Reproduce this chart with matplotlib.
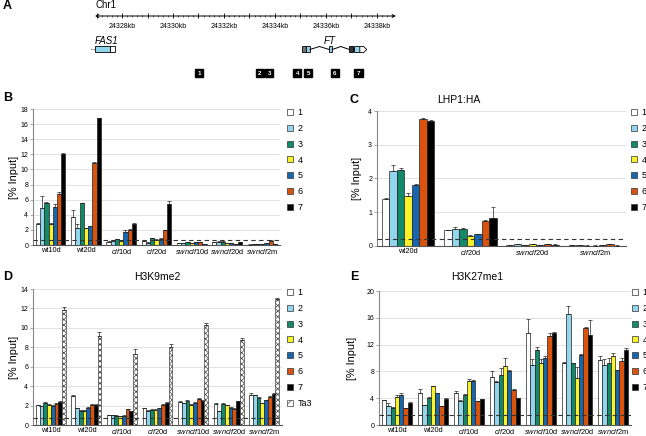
import matplotlib
matplotlib.use('Agg')
import matplotlib.pyplot as plt
from matplotlib.patches import Rectangle, Polygon, Patch
import numpy as np

plt.rcParams['font.family'] = ['Liberation Sans', 'DejaVu Sans']
plt.rcParams['mathtext.fontset'] = 'custom'
plt.rcParams['mathtext.rm'] = 'Liberation Sans'
plt.rcParams['mathtext.it'] = 'Liberation Sans:italic'
plt.rcParams['hatch.linewidth'] = 0.5

W, H = 646, 436

# ---- data
regions = ['1', '2', '3', '4', '5', '6', '7']
colors = ['white', '#92d5ec', '#13896a', '#f7f229', '#1667ad', '#d9530f', 'black']

lbl7 = ['wt10d', 'wt20d', r'$\mathit{clf}$10d', r'$\mathit{clf}$20d',
        r'$\mathit{swnclf}$10d', r'$\mathit{swnclf}$20d', r'$\mathit{swnclf}$2m']
lbl4 = ['wt20d', r'$\mathit{clf}$20d', r'$\mathit{swnclf}$20d', r'$\mathit{swnclf}$2m']

# panel A: gene map (kb)
ruler_lo, ruler_hi = 24326.94, 24338.75
ruler_labels = [24328, 24330, 24332, 24334, 24336, 24338]
fas1_cds = (24326.94, 24327.53)
fas1_utr = (24327.53, 24327.73)
ft_utr5 = (24335.05, 24335.22)
ft_exons = [(24335.22, 24335.37), (24336.13, 24336.25), (24337.10, 24337.33)]
ft_dark = (24336.92, 24337.05)
ft_utr3 = (24337.33, 24337.60)
ft_introns = [(24335.37, 24336.13), (24336.25, 24336.92)]
primers = [24331.03, 24333.40, 24333.78, 24334.88, 24335.31, 24336.35, 24337.28]

# panel B: 7 lines x 7 regions
b_vals = [[2.8, 4.95, 5.6, 2.8, 5.0, 6.8, 12.1],
          [3.7, 2.2, 5.5, 2.2, 2.5, 10.8, 16.8],
          [0.45, 0.55, 0.8, 0.55, 1.75, 2.0, 2.8],
          [0.5, 0.3, 0.9, 0.7, 0.85, 2.0, 5.4],
          [0.3, 0.3, 0.4, 0.25, 0.35, 0.4, 0.1],
          [0.4, 0.45, 0.45, 0.2, 0.25, 0.1, 0.35],
          [0.05, 0.1, 0.15, 0.15, 0.25, 0.55, 0.1]]
b_err = [[0.1, 1.6, 0.1, 0.1, 0.4, 0.2, 0.1],
         [0.95, 0.6, 0.1, 0.1, 0.05, 0.2, 0.05],
         [0.05, 0.05, 0.05, 0.05, 0.2, 0.1, 0.1],
         [0.1, 0.05, 0.05, 0.05, 0.05, 0.05, 0.4],
         [0.03, 0.03, 0.03, 0.03, 0.03, 0.03, 0.03],
         [0.05, 0.03, 0.03, 0.03, 0.03, 0.03, 0.03],
         [0.03, 0.03, 0.03, 0.03, 0.03, 0.05, 0.03]]
b_thresh = 0.7

# panel C: LHP1:HA
c_vals = [[1.4, 2.22, 2.26, 1.49, 1.8, 3.75, 3.71],
          [0.46, 0.5, 0.5, 0.3, 0.35, 0.75, 0.82],
          [0.02, 0.05, 0.03, 0.05, 0.03, 0.05, 0.04],
          [0.02, 0.03, 0.01, 0.01, 0.02, 0.06, 0.01]]
c_err = [[0.03, 0.18, 0.04, 0.07, 0.03, 0.05, 0.03],
         [0.02, 0.05, 0.02, 0.02, 0.02, 0.03, 0.33],
         [0.01, 0.01, 0.01, 0.01, 0.01, 0.01, 0.01],
         [0.01, 0.01, 0.01, 0.01, 0.01, 0.01, 0.01]]
c_thresh = 0.2

# panel D: H3K9me2, 7 regions + Ta3
d_vals = [[2.05, 1.95, 2.3, 2.1, 2.0, 2.2, 2.4],
          [3.0, 1.7, 1.45, 1.45, 1.8, 2.1, 2.1],
          [1.0, 1.0, 0.95, 0.9, 0.95, 1.6, 1.4],
          [1.75, 1.45, 1.55, 1.55, 1.7, 2.1, 2.3],
          [2.4, 2.25, 2.5, 2.1, 2.3, 2.7, 2.5],
          [2.2, 1.4, 2.2, 2.05, 1.8, 1.65, 2.45],
          [3.1, 3.05, 2.8, 2.25, 2.55, 2.9, 3.15]]
d_err = [[0.05, 0.05, 0.05, 0.05, 0.05, 0.05, 0.05],
         [0.05, 0.05, 0.05, 0.05, 0.05, 0.05, 0.05],
         [0.05, 0.05, 0.05, 0.05, 0.05, 0.05, 0.05],
         [0.05, 0.05, 0.05, 0.05, 0.05, 0.05, 0.05],
         [0.05, 0.05, 0.05, 0.05, 0.05, 0.05, 0.05],
         [0.05, 0.05, 0.05, 0.05, 0.05, 0.05, 0.05],
         [0.2, 0.05, 0.05, 0.05, 0.05, 0.05, 0.15]]
d_ta3 = [11.8, 9.15, 7.3, 8.0, 10.3, 8.8, 13.0]
d_ta3_err = [0.3, 0.45, 0.5, 0.3, 0.2, 0.2, 0.05]
d_thresh = 0.75

# panel E: H3K27me1
e_vals = [[3.7, 2.9, 2.55, 4.25, 4.55, 2.5, 3.3],
          [4.8, 2.95, 4.05, 5.75, 4.8, 2.85, 3.95],
          [4.75, 3.55, 4.55, 6.55, 6.6, 3.55, 3.85],
          [7.1, 6.4, 7.5, 8.75, 8.1, 5.25, 4.0],
          [13.8, 9.0, 11.15, 9.2, 9.95, 13.25, 13.8],
          [9.25, 16.5, 9.25, 7.0, 10.5, 14.45, 13.4],
          [9.75, 9.0, 9.25, 10.35, 8.2, 9.6, 11.2]]
e_err = [[0.1, 0.4, 0.1, 0.2, 0.25, 0.1, 0.2],
         [0.6, 0.1, 0.1, 0.1, 0.05, 0.05, 0.05],
         [0.35, 0.25, 0.15, 0.25, 0.05, 0.05, 0.05],
         [0.9, 0.1, 1.0, 1.25, 0.05, 0.05, 0.05],
         [2.0, 0.8, 0.55, 0.6, 0.35, 0.45, 0.05],
         [0.2, 1.2, 0.05, 1.7, 0.05, 0.25, 2.2],
         [0.55, 0.9, 0.75, 0.45, 0.05, 0.4, 0.3]]
e_thresh = 1.5


def rect(l, t, r, b):
    return [l / W, 1 - b / H, (r - l) / W, (b - t) / H]


fig = plt.figure(figsize=(W / 100, H / 100), dpi=100)


def bar_panel(ax, vals, errs, labels, ymax, ystep, thresh, ta3=None, ta3_err=None):
    vals = np.array(vals)
    errs = np.array(errs)
    nser = vals.shape[1] + (1 if ta3 is not None else 0)
    gw = 0.84
    w = gw / nser
    x0 = np.arange(len(labels))
    for j in range(vals.shape[1]):
        xs = x0 - gw / 2 + (j + 0.5) * w
        ax.bar(xs, vals[:, j], w, color=colors[j], edgecolor='#222222', lw=0.5, zorder=2)
        ax.errorbar(xs, vals[:, j], yerr=[np.zeros(len(xs)), errs[:, j]], fmt='none',
                    ecolor='#222222', elinewidth=0.5, capsize=1.2, capthick=0.5, zorder=3)
    if ta3 is not None:
        xs = x0 - gw / 2 + (nser - 0.5) * w
        ax.bar(xs, ta3, w, color='white', edgecolor='#444444', hatch='xxxxxx', lw=0.5, zorder=2)
        ax.errorbar(xs, ta3, yerr=[np.zeros(len(xs)), ta3_err], fmt='none',
                    ecolor='#222222', elinewidth=0.5, capsize=1.2, capthick=0.5, zorder=3)
    ax.axhline(thresh, color='#333333', ls=(0, (4, 3)), lw=0.8, zorder=4)
    ax.set_xlim(-0.5, len(labels) - 0.5)
    ax.set_ylim(0, ymax)
    ax.set_yticks(np.arange(0, ymax + 0.01, ystep))
    ax.set_xticks(x0)
    ax.set_xticklabels(labels)
    ax.yaxis.grid(True, color='#dddddd', lw=0.6)
    ax.set_axisbelow(True)
    for s in ['top', 'right']:
        ax.spines[s].set_visible(False)
    ax.spines['left'].set_color('#888888')
    ax.spines['left'].set_linewidth(0.8)
    ax.spines['bottom'].set_color('#555555')
    ax.spines['bottom'].set_linewidth(0.8)
    ax.tick_params(axis='y', labelsize=5, length=2, width=0.5, color='#888888', pad=1.5)
    ax.tick_params(axis='x', labelsize=5.3, length=0, pad=1.5)
    ax.set_ylabel('[% Input]', fontsize=7.8)


def add_legend(x, y, with_ta3=False):
    handles = [Patch(facecolor=c, edgecolor='#333333', lw=0.5) for c in colors]
    labels = list(regions)
    if with_ta3:
        handles.append(Patch(facecolor='white', edgecolor='#444444', hatch='////', lw=0.5))
        labels.append('Ta3')
    fig.legend(handles, labels, loc='upper left', bbox_to_anchor=(x / W, 1 - y / H),
               frameon=False, fontsize=6.5, handlelength=0.65, handleheight=0.65,
               handletextpad=0.5, labelspacing=0.76, borderpad=0, borderaxespad=0)


# ---- panel A
ax_a = fig.add_axes(rect(95, 0, 396, 90))
ax_a.set_xlim(ruler_lo, ruler_hi)
ax_a.set_ylim(90, 0)
ax_a.axis('off')
ax_a.annotate('', xy=(ruler_hi, 16), xytext=(ruler_lo, 16),
              arrowprops=dict(arrowstyle='<->', lw=0.7, shrinkA=0, shrinkB=0, mutation_scale=5))
ax_a.vlines(np.arange(24327, 24339, 1), 13.5, 18.5, color='black', lw=0.6)
ax_a.vlines(np.arange(24327, 24338.7, 0.2), 14.8, 17.2, color='black', lw=0.4)
for k in ruler_labels:
    ax_a.text(k, 26, f'{k}kb', ha='center', va='center', fontsize=5)

gy, gh = 46.5, 6
ax_a.add_patch(Rectangle((fas1_cds[0], gy), fas1_cds[1] - fas1_cds[0], gh,
                         facecolor='#92d5ec', edgecolor='black', lw=0.6, clip_on=False))
ax_a.add_patch(Rectangle((fas1_utr[0], gy), fas1_utr[1] - fas1_utr[0], gh,
                         facecolor='white', edgecolor='black', lw=0.6, clip_on=False))
ax_a.plot([fas1_cds[0] - 0.14, fas1_cds[0]], [gy + gh / 2] * 2, ls=':', color='black',
          lw=0.6, clip_on=False)
ax_a.add_patch(Rectangle((ft_utr5[0], gy), ft_utr5[1] - ft_utr5[0], gh,
                         facecolor='#777777', edgecolor='black', lw=0.6))
for s, e in ft_exons:
    ax_a.add_patch(Rectangle((s, gy), e - s, gh, facecolor='#92d5ec', edgecolor='black', lw=0.6))
ax_a.add_patch(Rectangle((ft_dark[0], gy), ft_dark[1] - ft_dark[0], gh,
                         facecolor='#333333', edgecolor='black', lw=0.6))
ax_a.add_patch(Polygon([(ft_utr3[0], gy), (ft_utr3[0] + (ft_utr3[1] - ft_utr3[0]) * 0.55, gy),
                        (ft_utr3[1], gy + gh / 2),
                        (ft_utr3[0] + (ft_utr3[1] - ft_utr3[0]) * 0.55, gy + gh),
                        (ft_utr3[0], gy + gh)], closed=True,
                       facecolor='white', edgecolor='black', lw=0.6))
for s, e in ft_introns:
    ax_a.plot([s, (s + e) / 2, e], [gy + gh / 2, gy, gy + gh / 2], color='black', lw=0.7)
ax_a.plot([ft_dark[1], ft_exons[2][0]], [gy + gh / 2] * 2, color='black', lw=0.7)

ax_a.text(fas1_cds[0], 41.5, 'FAS1', style='italic', fontsize=7, ha='left', va='center')
ax_a.text(24336.15, 40.5, 'FT', style='italic', fontsize=7, ha='center', va='center')
ax_a.text(ruler_lo, 5, 'Chr1', fontsize=7, ha='left', va='center')
for i, p in enumerate(primers):
    ax_a.add_patch(Rectangle((p - 0.16, 69), 0.32, 8, facecolor='black', edgecolor='black'))
    ax_a.text(p, 73.2, regions[i], color='white', fontsize=4.5, fontweight='bold',
              ha='center', va='center')

# ---- panel B
ax_b = fig.add_axes(rect(33, 109, 280, 245))
bar_panel(ax_b, b_vals, b_err, lbl7, 18, 2, b_thresh)
ax_b.yaxis.set_label_coords((19 - 33) / 247, 0.5)
add_legend(287, 108)

# ---- panel C
ax_c = fig.add_axes(rect(377, 111, 626, 246))
bar_panel(ax_c, c_vals, c_err, lbl4, 4, 1, c_thresh)
ax_c.yaxis.set_label_coords((362 - 377) / 249, 0.5)
add_legend(631, 108)
fig.text(459 / W, 1 - 100 / H, 'LHP1:HA', fontsize=7.5, ha='center', va='center')

# ---- panel D
ax_d = fig.add_axes(rect(33, 289, 282, 425))
bar_panel(ax_d, d_vals, d_err, lbl7, 14, 2, d_thresh, d_ta3, d_ta3_err)
ax_d.yaxis.set_label_coords((19 - 33) / 249, 0.5)
add_legend(287, 288, with_ta3=True)
fig.text(157 / W, 1 - 277 / H, 'H3K9me2', fontsize=7.5, ha='center', va='center')

# ---- panel E
ax_e = fig.add_axes(rect(379, 291, 631, 425))
bar_panel(ax_e, e_vals, e_err, lbl7, 20, 4, e_thresh)
ax_e.yaxis.set_label_coords((357 - 379) / 252, 0.5)
add_legend(632, 288)
fig.text(477 / W, 1 - 277 / H, 'H3K27me1', fontsize=7.5, ha='center', va='center')

for letter, x, y in [('A', 3, 6), ('B', 3, 98), ('C', 350, 100), ('D', 3, 277), ('E', 350, 277)]:
    fig.text(x / W, 1 - y / H, letter, fontsize=9, fontweight='bold', ha='left', va='center')

fig.savefig('out.png', dpi=100)
